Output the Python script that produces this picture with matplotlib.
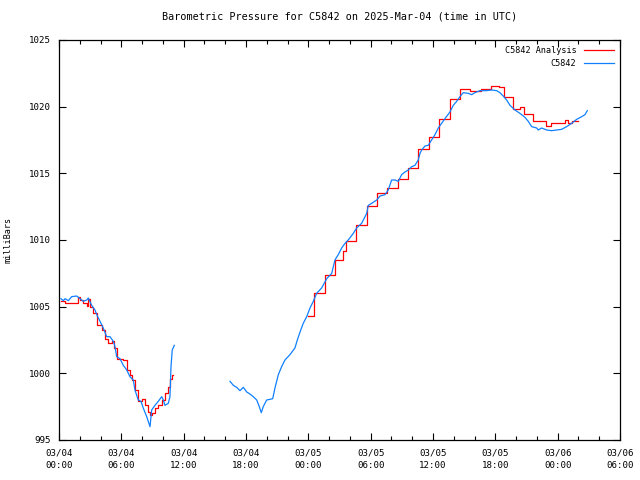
import numpy as np
import pandas as pd
import matplotlib
matplotlib.use("Agg")
import matplotlib.pyplot as plt
import matplotlib.dates as mdates

# ---- data (hours after 2025-03-04 00:00 UTC, pressure in mb) ----
station_hours = [
    0.19, 0.41, 0.58, 0.90, 1.22, 1.70, 2.02, 2.34, 2.67, 2.82, 3.15, 3.46,
    3.72, 3.95, 4.26, 4.59, 4.91, 5.23, 5.39, 5.55, 5.87, 6.19, 6.52, 6.83,
    7.15, 7.31, 7.63, 7.89, 8.11, 8.44, 8.76, 8.92, 9.24, 9.56, 9.88, 10.04,
    10.20, 10.52, 10.68, 10.78, 10.90, 11.10,
    np.nan,
    16.46, 16.78, 17.10, 17.42, 17.74, 18.07, 18.38, 18.70, 19.03, 19.28,
    19.47, 19.66, 19.99, 20.31, 20.57, 20.79, 21.11, 21.43, 21.75, 22.23,
    22.71, 22.94, 23.20, 23.51, 23.84, 24.16, 24.48, 24.80, 25.28, 25.77,
    26.25, 26.56, 26.88, 27.21, 27.53, 27.84, 28.33, 28.65, 29.13, 29.62,
    29.77, 30.10, 30.58, 30.90, 31.38, 31.69, 32.02, 32.34, 32.66, 32.98,
    33.30, 33.62, 33.95, 34.26, 34.58, 34.75, 34.91, 35.23, 35.54, 35.87,
    36.19, 36.51, 36.83, 37.15, 37.63, 37.95, 38.28, 38.59, 38.91, 39.39,
    39.72, 40.04, 40.52, 41.16, 41.65, 42.13, 42.44, 42.76, 43.09, 43.41,
    43.89, 44.37, 44.85, 45.17, 45.50, 45.98, 46.13, 46.46, 46.94, 47.42,
    47.90, 48.38, 48.86, 49.35, 49.83, 50.31, 50.63, 50.85,
]
station_mb = [
    1005.6, 1005.45, 1005.6, 1005.45, 1005.75, 1005.8, 1005.6, 1005.4, 1005.5,
    1005.65, 1005.1, 1004.75, 1004.25, 1003.9, 1003.4, 1002.75, 1002.75,
    1002.4, 1002.0, 1001.25, 1001.1, 1000.6, 1000.25, 999.75, 999.5, 998.75,
    998.0, 997.9, 997.4, 996.75, 996.0, 997.25, 997.6, 997.9, 998.25, 998.0,
    997.6, 997.75, 998.25, 1000.5, 1001.75, 1002.1,
    np.nan,
    999.4, 999.1, 998.95, 998.7, 998.95, 998.6, 998.45, 998.25, 998.0, 997.5,
    997.05, 997.5, 998.0, 998.05, 998.1, 998.9, 999.9, 1000.5, 1001.0, 1001.4,
    1001.9, 1002.5, 1003.1, 1003.75, 1004.25, 1004.9, 1005.4, 1006.0, 1006.4,
    1007.1, 1007.5, 1008.5, 1008.9, 1009.4, 1009.75, 1010.0, 1010.5, 1010.9,
    1011.25, 1012.0, 1012.6, 1012.75, 1013.0, 1013.3, 1013.4, 1013.75,
    1014.5, 1014.5, 1014.4, 1014.9, 1015.1, 1015.25, 1015.5, 1015.6, 1016.0,
    1016.5, 1016.75, 1017.05, 1017.1, 1017.5, 1017.9, 1018.4, 1018.75,
    1019.1, 1019.6, 1020.1, 1020.4, 1020.75, 1021.05, 1021.0, 1020.9,
    1021.05, 1021.2, 1021.2, 1021.25, 1021.2, 1021.05, 1020.8, 1020.5,
    1020.1, 1019.75, 1019.5, 1019.2, 1018.9, 1018.5, 1018.4, 1018.25,
    1018.4, 1018.25, 1018.2, 1018.25, 1018.3, 1018.5, 1018.75, 1019.05,
    1019.25, 1019.4, 1019.7,
]

# analysis values, each one holds until the next time
analysis_hours = [
    0.19, 0.58, 1.38, 1.80, 2.02, 2.34, 2.67, 2.82, 2.98, 3.30, 3.63, 3.88,
    4.11, 4.43, 4.74, 5.07, 5.32, 5.55, 5.87, 6.19, 6.52, 6.83, 7.05, 7.31,
    7.63, 7.96, 8.28, 8.59, 8.76, 8.92, 9.24, 9.56, 9.88, 10.20, 10.52,
    10.68, 10.90,
    11.0,
    24.00, 24.57, 25.60, 26.60, 27.30, 27.60, 28.60, 29.60, 30.60, 31.60,
    32.60, 33.60, 34.60, 35.60, 36.60, 37.60, 38.60, 39.60, 40.60, 41.60,
    42.40, 42.80, 43.70, 44.40, 44.75, 45.65, 46.90, 47.40, 48.70, 49.00,
    49.35, 50.00,
]
analysis_mb = [
    1005.4, 1005.3, 1005.3, 1005.7, 1005.5, 1005.25, 1005.05, 1005.6, 1005.0,
    1004.5, 1003.6, 1003.6, 1003.25, 1002.6, 1002.25, 1002.4, 1001.9, 1001.1,
    1001.1, 1001.0, 1000.25, 999.9, 999.5, 998.75, 997.9, 998.1, 997.6,
    997.1, 996.9, 997.0, 997.4, 997.6, 998.0, 998.5, 999.0, 999.6, 999.9,
    np.nan,
    1004.3, 1006.0, 1007.35, 1008.5, 1009.2, 1009.9, 1011.1, 1012.55,
    1013.5, 1013.9, 1014.6, 1015.4, 1016.8, 1017.75, 1019.1, 1020.55,
    1021.3, 1021.2, 1021.3, 1021.55, 1021.5, 1020.75, 1019.8, 1020.0,
    1019.45, 1018.9, 1018.55, 1018.8, 1019.0, 1018.75, 1018.9, 1018.9,
]

start = pd.Timestamp("2025-03-04 00:00")
station_time = start + pd.to_timedelta(station_hours, unit="h")
analysis_time = start + pd.to_timedelta(analysis_hours, unit="h")

# ---- plot ----
plt.rcParams["font.family"] = ["DejaVu Sans Mono"]
plt.rcParams["font.size"] = 6.1

fig = plt.figure(figsize=(6.4, 4.8), dpi=100)
ax = fig.add_axes([59 / 640, 40 / 480, 561 / 640, 400 / 480])

ax.plot(analysis_time, analysis_mb, color="#ff0000", lw=0.9,
        drawstyle="steps-post", label="C5842 Analysis")
ax.plot(station_time, station_mb, color="#1080ff", lw=0.9, label="C5842")

ax.set_xlim(start, start + pd.Timedelta(hours=54))
ax.set_ylim(995, 1025)
ax.set_yticks(np.arange(995, 1026, 5))

ax.xaxis.set_major_locator(mdates.HourLocator(byhour=[0, 6, 12, 18]))
ax.xaxis.set_minor_locator(mdates.HourLocator(byhour=range(0, 24, 2)))
ax.xaxis.set_major_formatter(mdates.DateFormatter("%m/%d\n%H:%M"))
for lbl in ax.get_xticklabels():
    lbl.set_linespacing(1.5)

ax.tick_params(which="both", direction="in", top=True, right=True,
               color="black", width=0.8, labelsize=6.6)
ax.tick_params(which="major", length=5, pad=6)
ax.tick_params(which="minor", length=3)
ax.tick_params(axis="y", pad=6)
for s in ax.spines.values():
    s.set_linewidth(0.9)

ax.set_ylabel("milliBars", labelpad=12)
ax.set_title("Barometric Pressure for C5842 on 2025-Mar-04 (time in UTC)",
             pad=15)

ax.legend(loc="upper right", frameon=False, markerfirst=False,
          handlelength=3.6, handletextpad=0.9, labelspacing=0.55,
          borderaxespad=0.25)

fig.savefig("out.png", dpi=100)
